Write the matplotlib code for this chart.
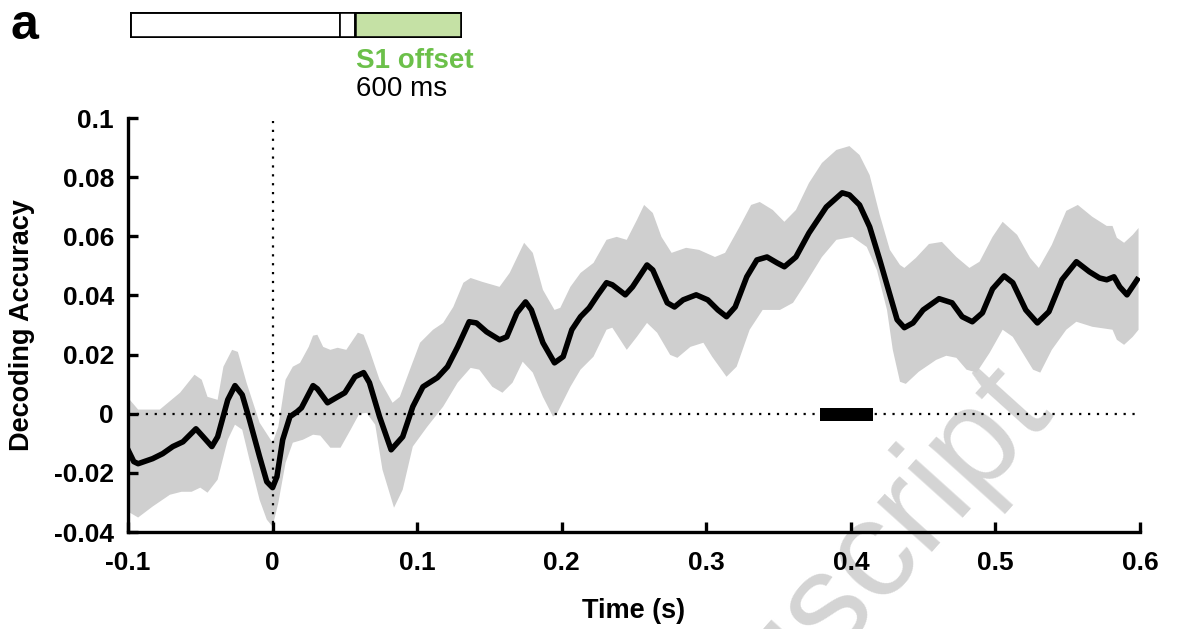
import matplotlib
matplotlib.use('Agg')
import matplotlib.pyplot as plt
from matplotlib.patches import Rectangle

plt.rcParams['font.family'] = ['Liberation Sans', 'DejaVu Sans']

# mean decoding accuracy (time in s, accuracy)
mean_t = [-0.100, -0.096, -0.093, -0.083, -0.076, -0.069, -0.062, -0.053, -0.048, -0.042,
          -0.038, -0.031, -0.026, -0.021, -0.016, -0.009, -0.004, 0.000, 0.003, 0.007,
          0.012, 0.017, 0.020, 0.028, 0.031, 0.038, 0.045, 0.050, 0.057, 0.063,
          0.067, 0.074, 0.082, 0.090, 0.097, 0.104, 0.114, 0.121, 0.128, 0.136,
          0.141, 0.148, 0.157, 0.162, 0.169, 0.175, 0.179, 0.187, 0.195, 0.201,
          0.207, 0.213, 0.219, 0.225, 0.231, 0.235, 0.244, 0.249, 0.259, 0.263,
          0.269, 0.273, 0.278, 0.284, 0.293, 0.301, 0.308, 0.314, 0.320, 0.328,
          0.335, 0.342, 0.349, 0.354, 0.362, 0.371, 0.383, 0.394, 0.399, 0.406,
          0.413, 0.420, 0.427, 0.432, 0.437, 0.443, 0.450, 0.461, 0.470, 0.477,
          0.484, 0.491, 0.498, 0.506, 0.512, 0.521, 0.529, 0.537, 0.546, 0.556,
          0.565, 0.572, 0.577, 0.582, 0.586, 0.591, 0.598]
mean_v = [-0.0122, -0.0162, -0.0169, -0.0152, -0.0135, -0.0111, -0.0095, -0.0051, -0.0078, -0.0111,
          -0.0078, 0.0047, 0.0095, 0.0064, -0.0020, -0.0145, -0.0230, -0.0250, -0.0213, -0.0088,
          -0.0010, 0.0007, 0.0020, 0.0095, 0.0084, 0.0037, 0.0057, 0.0071, 0.0125, 0.0139,
          0.0105, -0.0010, -0.0122, -0.0078, 0.0024, 0.0091, 0.0122, 0.0159, 0.0226, 0.0311,
          0.0307, 0.0277, 0.0250, 0.0260, 0.0341, 0.0378, 0.0351, 0.0240, 0.0172, 0.0193,
          0.0284, 0.0328, 0.0358, 0.0402, 0.0443, 0.0436, 0.0402, 0.0429, 0.0503, 0.0486,
          0.0419, 0.0375, 0.0361, 0.0385, 0.0402, 0.0385, 0.0351, 0.0328, 0.0361, 0.0463,
          0.0520, 0.0530, 0.0510, 0.0497, 0.0530, 0.0611, 0.0699, 0.0747, 0.0740, 0.0706,
          0.0632, 0.0520, 0.0402, 0.0318, 0.0291, 0.0307, 0.0351, 0.0389, 0.0375, 0.0328,
          0.0311, 0.0341, 0.0422, 0.0466, 0.0443, 0.0351, 0.0307, 0.0345, 0.0453, 0.0514,
          0.0480, 0.0459, 0.0453, 0.0463, 0.0429, 0.0402, 0.0453]

# upper edge of the shaded error band
upper_t = [-0.100, -0.097, -0.093, -0.078, -0.064, -0.054, -0.049, -0.045, -0.038, -0.034,
           -0.028, -0.024, -0.018, -0.009, 0.000, 0.004, 0.009, 0.014, 0.019, 0.025,
           0.028, 0.031, 0.035, 0.040, 0.045, 0.051, 0.059, 0.063, 0.067, 0.074,
           0.083, 0.088, 0.095, 0.102, 0.111, 0.118, 0.125, 0.132, 0.137, 0.145,
           0.157, 0.164, 0.174, 0.180, 0.187, 0.195, 0.199, 0.206, 0.213, 0.222,
           0.231, 0.238, 0.245, 0.252, 0.257, 0.263, 0.269, 0.276, 0.286, 0.295,
           0.306, 0.313, 0.323, 0.331, 0.337, 0.346, 0.354, 0.362, 0.371, 0.380,
           0.390, 0.399, 0.406, 0.413, 0.420, 0.427, 0.434, 0.437, 0.445, 0.454,
           0.463, 0.473, 0.482, 0.489, 0.498, 0.505, 0.515, 0.524, 0.530, 0.539,
           0.549, 0.557, 0.567, 0.577, 0.581, 0.584, 0.589, 0.595, 0.599]
upper_v = [0.0054, 0.0037, 0.0014, 0.0014, 0.0071, 0.0132, 0.0115, 0.0057, 0.0047, 0.0159,
           0.0216, 0.0209, 0.0105, -0.0030, -0.0098, -0.0044, 0.0115, 0.0159, 0.0172, 0.0226,
           0.0264, 0.0267, 0.0226, 0.0216, 0.0223, 0.0216, 0.0274, 0.0267, 0.0216, 0.0115,
           0.0037, 0.0057, 0.0149, 0.0240, 0.0284, 0.0307, 0.0361, 0.0443, 0.0459, 0.0446,
           0.0429, 0.0476, 0.0578, 0.0544, 0.0419, 0.0351, 0.0358, 0.0429, 0.0476, 0.0510,
           0.0588, 0.0598, 0.0588, 0.0655, 0.0706, 0.0679, 0.0598, 0.0544, 0.0561, 0.0554,
           0.0530, 0.0544, 0.0632, 0.0706, 0.0716, 0.0689, 0.0649, 0.0689, 0.0780, 0.0848,
           0.0892, 0.0905, 0.0875, 0.0807, 0.0672, 0.0554, 0.0503, 0.0493, 0.0527, 0.0574,
           0.0581, 0.0530, 0.0493, 0.0514, 0.0598, 0.0649, 0.0605, 0.0527, 0.0493, 0.0571,
           0.0686, 0.0706, 0.0666, 0.0635, 0.0635, 0.0595, 0.0578, 0.0605, 0.0628]

# lower edge of the shaded error band
lower_t = [-0.100, -0.093, -0.083, -0.071, -0.063, -0.056, -0.050, -0.045, -0.038, -0.031,
           -0.026, -0.021, -0.016, -0.009, -0.004, 0.000, 0.004, 0.009, 0.014, 0.021,
           0.028, 0.033, 0.040, 0.047, 0.054, 0.060, 0.065, 0.071, 0.076, 0.084,
           0.090, 0.097, 0.107, 0.118, 0.128, 0.137, 0.143, 0.152, 0.159, 0.166,
           0.173, 0.180, 0.187, 0.194, 0.197, 0.206, 0.213, 0.222, 0.231, 0.235,
           0.245, 0.252, 0.259, 0.266, 0.275, 0.280, 0.289, 0.298, 0.304, 0.314,
           0.321, 0.330, 0.339, 0.351, 0.360, 0.369, 0.380, 0.390, 0.401, 0.411,
           0.418, 0.425, 0.429, 0.434, 0.438, 0.447, 0.459, 0.466, 0.473, 0.480,
           0.487, 0.496, 0.505, 0.512, 0.526, 0.531, 0.539, 0.549, 0.556, 0.567,
           0.581, 0.584, 0.589, 0.595, 0.599]
lower_v = [-0.0331, -0.0351, -0.0314, -0.0274, -0.0264, -0.0264, -0.0250, -0.0267, -0.0223, -0.0088,
           -0.0037, -0.0054, -0.0155, -0.0291, -0.0358, -0.0382, -0.0301, -0.0166, -0.0098, -0.0088,
           -0.0071, -0.0074, -0.0115, -0.0115, -0.0054, 0.0000, 0.0003, -0.0037, -0.0189, -0.0318,
           -0.0257, -0.0111, -0.0044, 0.0024, 0.0105, 0.0155, 0.0149, 0.0091, 0.0071, 0.0105,
           0.0176, 0.0139, 0.0057, -0.0010, 0.0003, 0.0091, 0.0149, 0.0193, 0.0284, 0.0291,
           0.0216, 0.0260, 0.0307, 0.0274, 0.0199, 0.0189, 0.0226, 0.0240, 0.0193, 0.0125,
           0.0159, 0.0284, 0.0351, 0.0351, 0.0375, 0.0443, 0.0530, 0.0588, 0.0598, 0.0564,
           0.0486, 0.0351, 0.0216, 0.0108, 0.0101, 0.0142, 0.0182, 0.0196, 0.0189, 0.0149,
           0.0139, 0.0206, 0.0284, 0.0260, 0.0149, 0.0139, 0.0216, 0.0284, 0.0311, 0.0294,
           0.0284, 0.0250, 0.0233, 0.0260, 0.0284]

# significant cluster (s)
sig_start = 0.379
sig_end = 0.415

x_ticks = [-0.1, 0, 0.1, 0.2, 0.3, 0.4, 0.5, 0.6]
x_labels = ['-0.1', '0', '0.1', '0.2', '0.3', '0.4', '0.5', '0.6']
y_ticks = [-0.04, -0.02, 0, 0.02, 0.04, 0.06, 0.08, 0.1]
y_labels = ['-0.04', '-0.02', '0', '0.02', '0.04', '0.06', '0.08', '0.1']

fig = plt.figure(figsize=(11.79, 6.29), dpi=100)

# faint watermark, drawn below everything
fig.text(1055 / 1179, 1 - 415 / 629, 'Author Manuscript', color='#d4d4d4', fontsize=100,
         rotation=48, rotation_mode='anchor', ha='right', va='baseline', zorder=-5)

ax = fig.add_axes([128 / 1179, 1 - 532 / 629, 1012 / 1179, 414 / 629])
ax.set_facecolor('none')

# shaded band as one polygon
band_x = upper_t + lower_t[::-1]
band_y = upper_v + lower_v[::-1]
ax.fill(band_x, band_y, color='#cfcfcf', linewidth=0, zorder=1)

ax.plot([-0.1, 0.6], [0, 0], color='black', linestyle=(0, (1, 3)), linewidth=1.6, zorder=2)
ax.plot([0, 0], [-0.04, 0.099], color='black', linestyle=(0, (1, 3)), linewidth=1.6, zorder=2)

ax.plot(mean_t, mean_v, color='black', linewidth=4, solid_joinstyle='round', zorder=3)

ax.barh(-0.00025, sig_end - sig_start, left=sig_start, height=0.0045,
        color='black', zorder=4)

ax.set_xlim(-0.1, 0.6)
ax.set_ylim(-0.04, 0.1)
ax.set_xticks(x_ticks)
ax.set_xticklabels(x_labels)
ax.set_yticks(y_ticks)
ax.set_yticklabels(y_labels)
for side in ['top', 'right']:
    ax.spines[side].set_visible(False)
for side in ['left', 'bottom']:
    ax.spines[side].set_linewidth(2.4)
ax.tick_params(direction='in', length=7, width=2.4, labelsize=19)
ax.tick_params(axis='x', pad=14)
ax.tick_params(axis='y', pad=10)
for lab in ax.get_xticklabels() + ax.get_yticklabels():
    lab.set_fontweight('bold')
ax.set_xlabel('Time (s)', fontsize=19.5, fontweight='bold', labelpad=16)
ax.set_ylabel('Decoding Accuracy', fontsize=19.5, fontweight='bold', labelpad=14)

# stimulus schematic at the top
sch = fig.add_axes([130 / 1179, 1 - 38 / 629, 332 / 1179, 26 / 629])
sch.set_xlim(0, 1)
sch.set_ylim(0, 1)
sch.axis('off')
sch.add_patch(Rectangle((0, 0), 0.633, 1, facecolor='white', edgecolor='black', linewidth=1.8))
sch.add_patch(Rectangle((0.633, 0), 0.045, 1, facecolor='white', edgecolor='black', linewidth=1.2))
sch.add_patch(Rectangle((0.678, 0), 0.322, 1, facecolor='#c5e1a5', edgecolor='black', linewidth=1.8))
sch.add_patch(Rectangle((0, 0), 1, 1, facecolor='none', edgecolor='black', linewidth=2.6))

fig.text(356 / 1179, 1 - 61 / 629, 'S1 offset', color='#6cc04a', fontsize=20,
         fontweight='bold', va='center', ha='left')
fig.text(356 / 1179, 1 - 89 / 629, '600 ms', color='black', fontsize=20,
         va='center', ha='left')
fig.text(10 / 1179, 1 - 26 / 629, 'a', color='black', fontsize=36,
         fontweight='bold', va='center', ha='left')

fig.savefig('out.png', dpi=100)
